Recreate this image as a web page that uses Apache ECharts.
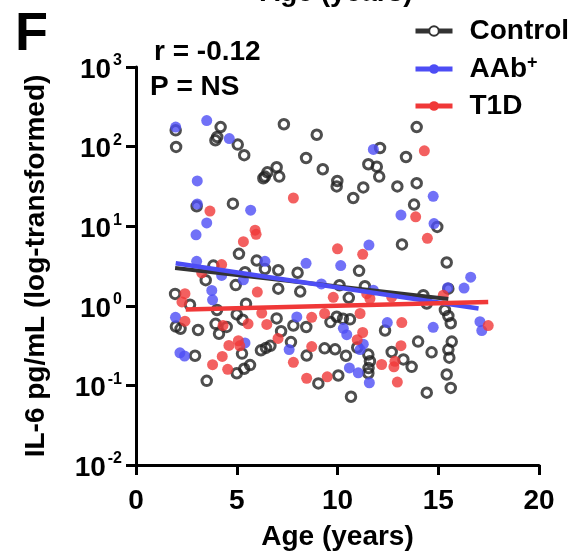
<!DOCTYPE html>
<html>
<head>
<meta charset="utf-8">
<script src="https://cdn.jsdelivr.net/npm/echarts@6/dist/echarts.min.js"></script>
<style>
html,body{margin:0;padding:0;background:#fff;}
#chart{width:573px;height:556px;}
</style>
</head>
<body>
<div id="chart"></div>
<script>
// ---- data: [age (years), IL-6 pg/mL] ----
var controlPoints = [
[1.97,160],[1.99,99],[4.20,176],[3.94,120],[4.03,132],[5.05,106],[5.37,78],[7.34,191],[8.97,141],[8.44,72],
[9.27,52],[6.40,42],[6.52,47.5],[6.98,55],[7.11,42],[6.32,40],[3.01,17.8],[4.81,19.2],[13.93,176],[12.11,96],
[13.40,74],[11.53,60],[11.95,56],[12.07,42],[9.99,37],[9.96,31.6],[11.28,30.7],[10.78,22.6],[12.97,31.6],[13.93,34.7],
[13.80,18.7],[14.95,9.8],[13.20,5.9],[15.42,3.5],
[5.11,4.5],[5.99,3.7],[6.40,2.9],[7.06,2.8],[8.02,2.6],[3.84,3.2],[3.46,2.1],[4.95,1.82],[5.41,2.64],[7.06,1.64],
[8.15,1.51],[1.94,1.41],[2.68,1.03],[4.02,0.885],[5.46,1.06],[5.00,0.78],[5.29,0.67],[6.98,0.695],[1.98,0.548],[2.21,0.514],
[3.08,0.497],[3.95,0.593],[4.50,0.543],[4.12,0.445],[7.20,0.479],[7.81,0.565],[8.45,0.541],[9.65,0.624],[7.69,0.35],[6.20,0.276],
[6.45,0.296],[6.67,0.314],[2.93,0.236],[5.26,0.251],[8.47,0.237],[9.36,0.292],[5.00,0.142],[5.37,0.162],[5.66,0.18],[3.51,0.114],
[9.05,0.106],
[11.07,2.75],[10.10,1.81],[10.56,1.26],[11.36,1.76],[14.26,1.36],[15.50,1.64],[14.43,1.07],[15.33,0.885],[15.50,0.745],[15.62,0.603],
[9.96,0.729],[10.27,0.69],[10.62,0.676],[12.36,0.489],[9.88,0.284],[10.42,0.236],[10.98,0.299],[11.53,0.244],[11.61,0.201],[11.54,0.165],
[12.69,0.263],[13.27,0.212],[13.68,0.171],[14.00,0.355],[14.67,0.26],[15.67,0.355],[15.50,0.282],[15.55,0.223],[10.04,0.133],[11.53,0.142],
[15.42,0.137],[14.43,0.081],[15.62,0.093],[10.67,0.072]
];
var aabPoints = [
[1.97,176],[3.51,212],[4.63,126],[3.04,37],[3.04,19],[3.51,11],[2.98,7.8],[5.69,15.9],[11.78,92],[14.75,23.7],
[13.15,13.8],[14.79,10.8],[11.56,5.8],[3.01,3.62],[6.40,3.62],[8.44,3.42],[4.25,2.41],[5.33,2.12],[9.20,1.88],[3.76,1.56],
[3.80,1.19],[1.96,0.716],[7.98,0.724],[5.41,0.342],[7.60,0.282],[2.18,0.257],[2.41,0.234],[10.16,3.2],[11.78,1.57],[15.47,1.69],
[16.28,1.67],[16.61,2.29],[12.47,0.615],[14.75,0.537],[17.07,0.632],[17.16,0.489],[10.29,0.522],[10.46,0.433],[11.28,0.33],[11.12,0.282],
[10.59,0.166],[11.03,0.144],[11.58,0.108]
];
var t1dPoints = [
[7.81,22.6],[3.67,15.5],[5.91,8.9],[5.96,7.9],[5.33,6.4],[14.31,88.5],[13.88,13.1],[14.46,7.05],[10.00,5.2],[11.25,4.43],
[4.25,3.3],[3.26,2.6],[6.02,1.49],[2.43,1.42],[2.28,1.12],[2.43,0.641],[4.32,0.567],[5.56,0.593],[6.24,0.81],[6.49,0.583],
[8.72,0.716],[9.36,0.80],[7.05,0.389],[5.08,0.364],[5.15,0.314],[4.61,0.318],[8.72,0.307],[4.28,0.231],[3.80,0.182],[4.55,0.159],
[7.81,0.195],[8.47,0.123],[9.49,0.128],[9.79,1.28],[11.45,1.42],[11.61,1.23],[12.69,1.29],[15.25,1.36],[11.12,0.80],[13.19,0.615],
[11.25,0.462],[10.98,0.375],[17.48,0.565],[13.15,0.315],[12.19,0.183],[12.85,0.201],[12.80,0.171],[12.97,0.11]
];
// regression line end points [age, IL-6]
var controlFit = [[1.94,2.99],[15.5,1.22]];
var aabFit = [[1.97,3.42],[17.0,0.925]];
var t1dFit = [[2.47,0.90],[17.48,1.12]];

var seriesNames = ['Control','AAb+','T1D'];
var xTicks = [0,5,10,15,20];
var yTickExponents = [-2,-1,0,1,2,3];
var statsText = ['r = -0.12','P = NS'];
var panelLetter = 'F';
var xTitle = 'Age (years)';
var yTitle = 'IL-6 pg/mL (log-transformed)';

var FONT = '"Liberation Sans", Arial, sans-serif';
var cBlack = '#222222', cBlue = '#4d4df5', cRed = '#f03838';

var chart = echarts.init(document.getElementById('chart'), null, {renderer:'canvas'});

chart.setOption({
  animation:false,
  backgroundColor:'#fff',
  grid:{left:136,right:34,top:67,bottom:86,containLabel:false},
  xAxis:{
    type:'value', min:xTicks[0], max:xTicks[xTicks.length-1], interval:5,
    name:xTitle, nameLocation:'middle', nameGap:58,
    nameTextStyle:{fontFamily:FONT,fontWeight:'bold',fontSize:28,color:'#000'},
    axisLine:{show:true,onZero:false,lineStyle:{color:'#000',width:3}},
    axisTick:{show:true,length:10,lineStyle:{color:'#000',width:3}},
    axisLabel:{fontFamily:FONT,fontWeight:'bold',fontSize:28,color:'#000',margin:22},
    splitLine:{show:false}
  },
  yAxis:{
    type:'log', logBase:10, min:Math.pow(10,yTickExponents[0]), max:Math.pow(10,yTickExponents[yTickExponents.length-1]),
    name:yTitle, nameLocation:'middle', nameGap:86, nameRotate:90,
    nameTextStyle:{fontFamily:FONT,fontWeight:'bold',fontSize:28,color:'#000'},
    axisLine:{show:true,onZero:false,lineStyle:{color:'#000',width:3}},
    axisTick:{show:true,length:10,lineStyle:{color:'#000',width:3}},
    minorTick:{show:false},
    axisLabel:{
      margin:14, color:'#000',
      formatter:function(v){ var e=Math.round(Math.log10(v)); return '{b|10}{s|'+e+'}'; },
      rich:{
        b:{fontFamily:FONT,fontWeight:'bold',fontSize:28,color:'#000',lineHeight:28,padding:[6,0,0,0]},
        s:{fontFamily:FONT,fontWeight:'bold',fontSize:16,color:'#000',verticalAlign:'top',lineHeight:14,padding:[0,0,0,2]}
      }
    },
    splitLine:{show:false}
  },
  legend:{
    orient:'vertical', left:408, top:12, itemWidth:37, itemHeight:12, itemGap:9,
    selectedMode:false, data:seriesNames,
    lineStyle:{width:5},
    formatter:function(n){ return n==='AAb+' ? '{m|AAb}{p|+}' : '{m|'+n+'}'; },
    textStyle:{
      padding:[0,0,0,12], color:'#000',
      rich:{
        m:{fontFamily:FONT,fontWeight:'bold',fontSize:28,color:'#000',lineHeight:30},
        p:{fontFamily:FONT,fontWeight:'bold',fontSize:18,color:'#000',verticalAlign:'top',lineHeight:12}
      }
    }
  },
  graphic:[
    {type:'text',left:15,top:8,style:{text:panelLetter,font:'bold 54px '+FONT,fill:'#000'}},
    {type:'text',left:154,top:38,style:{text:statsText[0],font:'bold 28px '+FONT,fill:'#000'}},
    {type:'text',left:150,top:73,style:{text:statsText[1],font:'bold 28px '+FONT,fill:'#000'}},
    {type:'text',left:260,top:-21,style:{text:xTitle,font:'bold 28px '+FONT,fill:'#000'}}
  ],
  series:[
    {name:'Control',type:'line',data:controlFit,symbol:'emptyCircle',showSymbol:false,z:4,
      lineStyle:{color:'#333',width:4},itemStyle:{color:'#333'}},
    {name:'AAb+',type:'line',data:aabFit,symbol:'circle',showSymbol:false,z:5,
      lineStyle:{color:cBlue,width:4.5},itemStyle:{color:cBlue}},
    {name:'T1D',type:'line',data:t1dFit,symbol:'circle',showSymbol:false,z:6,
      lineStyle:{color:cRed,width:4.5},itemStyle:{color:cRed}},
    {name:'Control',type:'scatter',data:controlPoints,symbol:'circle',symbolSize:9.5,z:2,
      itemStyle:{color:'rgba(255,255,255,0)',borderColor:cBlack,borderWidth:3}},
    {name:'AAb+',type:'scatter',data:aabPoints,symbol:'circle',symbolSize:11,z:2,
      itemStyle:{color:cBlue}},
    {name:'T1D',type:'scatter',data:t1dPoints,symbol:'circle',symbolSize:11,z:2,
      itemStyle:{color:cRed}}
  ]
});
</script>
</body>
</html>
